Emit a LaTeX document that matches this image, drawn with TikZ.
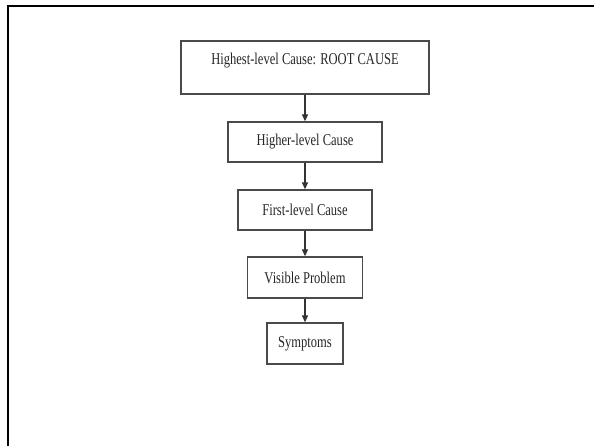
\documentclass[tikz,border=0pt]{standalone}
\usepackage{fontspec}
\usetikzlibrary{arrows.meta}
\newfontfamily\boxfont[FakeStretch=0.76]{Liberation Serif}
\definecolor{edge}{HTML}{4A4A4A}
\tikzset{
  x=1pt, y=-1pt,
  causebox/.style={draw=edge, line width=1.3pt, inner sep=0pt,
    minimum width=#1, font=\boxfont\fontsize{16.5}{19}\selectfont,
    text=black!85},
  boxtext/.style={inner sep=0pt, font=\boxfont\fontsize{16.5}{19}\selectfont,
    text=black!85},
  link/.style={draw=black!80, line width=1.2pt,
    -{Triangle[length=7pt,width=6pt]}},
}
\begin{document}
\begin{tikzpicture}
\useasboundingbox (0,0) rectangle (594,445);
% slide frame: only its top and left sides fall inside the page
\draw[line width=2.6pt, black] (8,450) -- (8,6) -- (600,6);

\node[causebox=248pt, minimum height=53pt] (root) at (305,67.5) {};
\node[boxtext] (roottext) at (305,61) {Highest-level Cause: ROOT CAUSE};
\node[causebox=154pt, minimum height=40pt] (higher) at (305,142) {Higher-level Cause};
\node[causebox=134pt, minimum height=40pt] (first) at (305,210) {First-level Cause};
\node[causebox=115pt, minimum height=41pt] (visible) at (305,277.5) {Visible Problem};
\node[causebox=76pt, minimum height=41pt] (symptoms) at (305,343.5) {Symptoms};

\draw[link] (root) -- (higher);
\draw[link] (higher) -- (first);
\draw[link] (first) -- (visible);
\draw[link] (visible) -- (symptoms);
\end{tikzpicture}
\end{document}
